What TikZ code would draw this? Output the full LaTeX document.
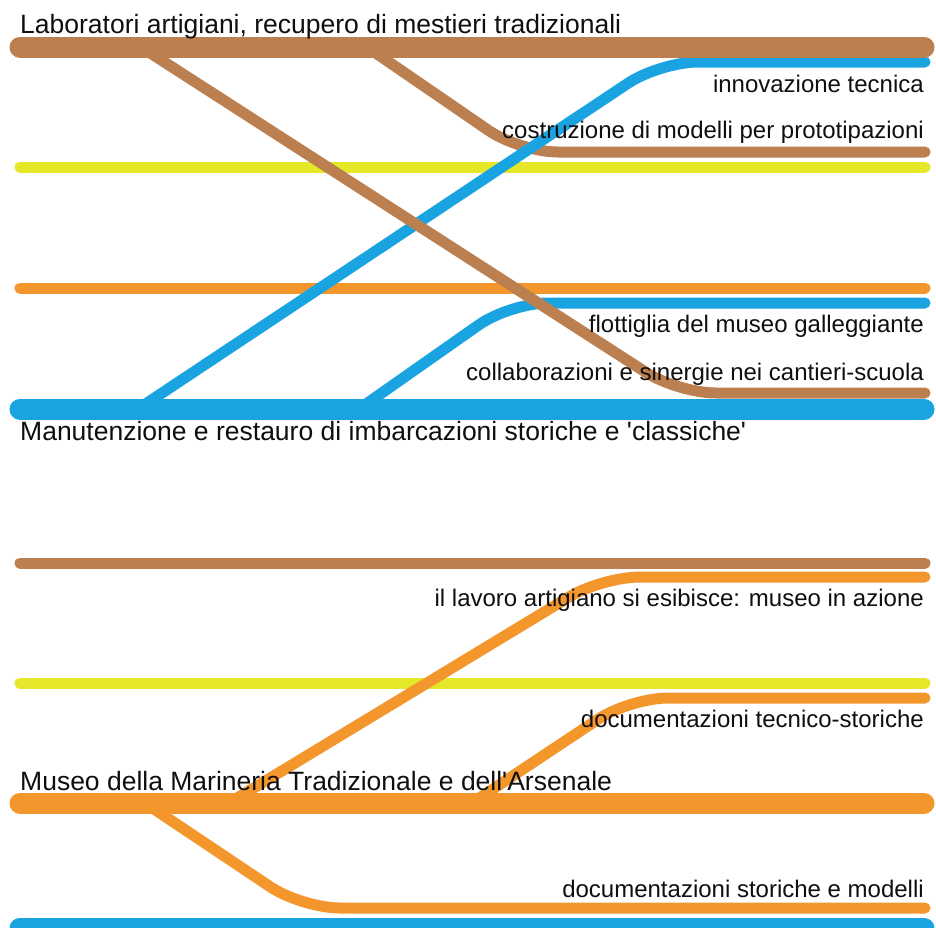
\documentclass[tikz,border=0pt]{standalone}
\usepackage{fontspec}
\newfontfamily\lsf{Liberation Sans}
\definecolor{cbrown}{RGB}{187,127,80}
\definecolor{corange}{RGB}{243,151,45}
\definecolor{cyellow}{RGB}{228,232,40}
\definecolor{cblue}{RGB}{25,163,224}
\definecolor{ctext}{RGB}{15,15,15}
\tikzset{
  thickline/.style={line width=21pt, line cap=round},
  thinline/.style={line width=11pt, line cap=round},
  branch/.style={line width=11pt, line cap=round, rounded corners=38pt},
  titletext/.style={anchor=base west, inner sep=0pt, text=ctext, font=\lsf\fontsize{26.5}{30}\selectfont},
  labtext/.style={anchor=base east, inner sep=0pt, text=ctext, font=\lsf\fontsize{24}{28}\selectfont}
}
\begin{document}
\begin{tikzpicture}[x=1pt,y=-1pt]
\useasboundingbox (0,0) rectangle (936,927);
\fill[white] (0,0) rectangle (936,927);

% ---------- upper section coordinates ----------
\coordinate (bTopL) at (20,47);   \coordinate (bTopR) at (924,47);
\coordinate (yA_L) at (20,167);   \coordinate (yA_R) at (925,167);
\coordinate (oA_L) at (20,288);   \coordinate (oA_R) at (925,288);
\coordinate (blBotL) at (20,409); \coordinate (blBotR) at (924,409);

\coordinate (br2s) at (367,47);  \coordinate (br2c) at (520,152); \coordinate (br2e) at (925,152);
\coordinate (br1s) at (141,47);  \coordinate (br1c) at (678,393); \coordinate (br1e) at (925,393);
\coordinate (bl1s) at (138,409); \coordinate (bl1c) at (660,62);  \coordinate (bl1e) at (925,62);
\coordinate (bl2s) at (359,409); \coordinate (bl2c) at (510,303); \coordinate (bl2e) at (925,303);

% ---------- lower section coordinates ----------
\coordinate (bB_L) at (20,563);   \coordinate (bB_R) at (925,563);
\coordinate (yB_L) at (20,683);   \coordinate (yB_R) at (925,683);
\coordinate (oMainL) at (20,803); \coordinate (oMainR) at (924,803);
\coordinate (blLowL) at (20,928); \coordinate (blLowR) at (924,928);

\coordinate (or1s) at (229,803); \coordinate (or1c) at (602,577); \coordinate (or1e) at (925,577);
\coordinate (or2s) at (472,803); \coordinate (or2c) at (630,698); \coordinate (or2e) at (925,698);
\coordinate (or3s) at (145,803); \coordinate (or3c) at (302,908); \coordinate (or3e) at (925,908);

% ---------- upper section lines ----------
\draw[thinline, cyellow] (yA_L) -- (yA_R);
\draw[thinline, corange] (oA_L) -- (oA_R);
\draw[branch, cbrown] (br2s) -- (br2c) -- (br2e);
\draw[branch, cblue] (bl1s) -- (bl1c) -- (bl1e);
\draw[branch, cblue] (bl2s) -- (bl2c) -- (bl2e);
\draw[branch, cbrown] (br1s) -- (br1c) -- (br1e);
\draw[thickline, cbrown] (bTopL) -- (bTopR);
\draw[thickline, cblue] (blBotL) -- (blBotR);

% ---------- lower section lines ----------
\draw[thinline, cbrown] (bB_L) -- (bB_R);
\draw[thinline, cyellow] (yB_L) -- (yB_R);
\draw[branch, corange] (or1s) -- (or1c) -- (or1e);
\draw[branch, corange] (or2s) -- (or2c) -- (or2e);
\draw[branch, corange] (or3s) -- (or3c) -- (or3e);
\draw[thickline, corange] (oMainL) -- (oMainR);
\draw[thickline, cblue] (blLowL) -- (blLowR);

% ---------- texts ----------
\node[titletext] (t1) at (20,33) {Laboratori artigiani, recupero di mestieri tradizionali};
\node[labtext] (l1) at (924,92) {innovazione tecnica};
\node[labtext] (l2) at (924,138) {costruzione di modelli per prototipazioni};
\node[labtext] (l3) at (924,332) {flottiglia del museo galleggiante};
\node[labtext] (l4) at (924,380) {collaborazioni e sinergie nei cantieri-scuola};
\node[titletext] (t2) at (20,440) {Manutenzione e restauro di imbarcazioni storiche e 'classiche'};
\node[labtext] (l5) at (924,606) {il lavoro artigiano si esibisce: museo in azione};
\node[labtext] (l6) at (924,727) {documentazioni tecnico-storiche};
\node[titletext] (t3) at (20,790) {Museo della Marineria Tradizionale e dell'Arsenale};
\node[labtext] (l7) at (924,897) {documentazioni storiche e modelli};
\end{tikzpicture}
\end{document}
